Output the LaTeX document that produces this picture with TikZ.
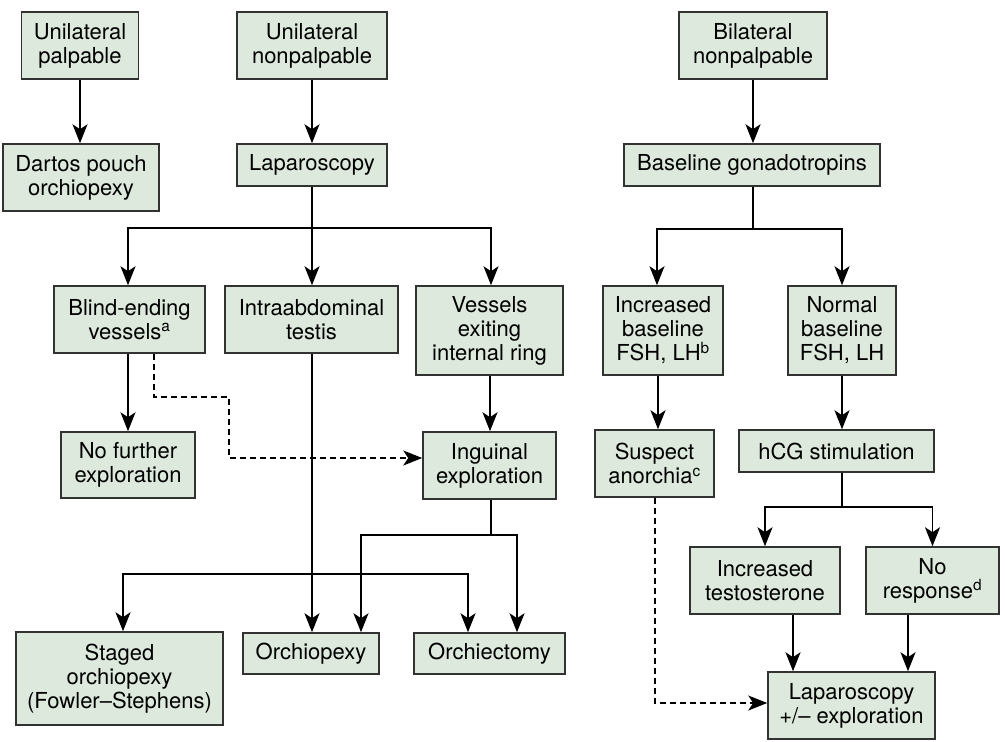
\documentclass[tikz,border=0pt]{standalone}
\usepackage{fontspec}
\setmainfont{TeX Gyre Heros}
\usetikzlibrary{arrows.meta}

\definecolor{boxfill}{RGB}{221,233,221}
\definecolor{boxline}{RGB}{50,50,50}

\tikzset{
  box/.style={draw=boxline, fill=boxfill, line width=1.5pt, align=center,
    inner sep=0pt, font=\fontsize{22}{24}\selectfont},
  boxsize/.style 2 args={minimum width=#1pt, minimum height=#2pt},
  link/.style={line width=1.6pt},
  flow/.style={line width=1.6pt, -{Stealth[length=19pt,width=15pt,inset=5pt]}},
  dashline/.style={dash pattern=on 6pt off 4pt},
}

\begin{document}
\begin{tikzpicture}[x=1pt, y=-1pt]
    \useasboundingbox (0,0) rectangle (1005,742);

    % left column
    \node[box, boxsize={117}{67}] (upal) at (80,45.5) {Unilateral\\palpable};
    \node[box, boxsize={156}{67}] (dartos) at (81,177.5) {Dartos pouch\\orchiopexy};

    % middle column
    \node[box, boxsize={150}{67}] (unon) at (312,45.5) {Unilateral\\nonpalpable};
    \node[box, boxsize={150}{42}] (lap) at (312,165) {Laparoscopy};
    \node[box, boxsize={151}{67}] (blind) at (129.5,319.5) {Blind-ending\\vessels\textsuperscript{a}};
    \node[box, boxsize={173}{67}] (intra) at (311.5,319.5) {Intraabdominal\\testis};
    \node[box, boxsize={147}{89}] (vessels) at (489.5,330.5) {Vessels\\exiting\\internal ring};
    \node[box, boxsize={134}{66}] (nofur) at (128,465) {No further\\exploration};
    \node[box, boxsize={133}{67}] (ingu) at (489.5,465.5) {Inguinal\\exploration};
    \node[box, boxsize={207}{93}] (staged) at (119.5,678.5) {Staged\\orchiopexy\\(Fowler–Stephens)};
    \node[box, boxsize={136}{41}] (opexy) at (311,653.5) {Orchiopexy};
    \node[box, boxsize={151}{41}] (ectomy) at (489.5,653.5) {Orchiectomy};

    % right column
    \node[box, boxsize={148}{67}] (bil) at (753,45.5) {Bilateral\\nonpalpable};
    \node[box, boxsize={256}{42}] (base) at (752,165) {Baseline gonadotropins};
    \node[box, boxsize={120}{89}] (incb) at (663,330.5) {Increased\\baseline\\FSH, LH\textsuperscript{b}};
    \node[box, boxsize={108}{89}] (normb) at (842,330.5) {Normal\\baseline\\FSH, LH};
    \node[box, boxsize={119}{67}] (susp) at (654.5,463.5) {Suspect\\anorchia\textsuperscript{c}};
    \node[box, boxsize={195}{42}] (hcg) at (836.5,451) {hCG stimulation};
    \node[box, boxsize={150}{67}] (inct) at (765,580.5) {Increased\\testosterone};
    \node[box, boxsize={133}{67}] (nores) at (932.5,580.5) {No\\response\textsuperscript{d}};
    \node[box, boxsize={167}{67}] (lapx) at (851.5,705.5) {Laparoscopy\\+/– exploration};

    % branch points
    \coordinate (lsplit) at (312,228);
    \coordinate (isplit) at (312,574);
    \coordinate (gsplit) at (491,535);
    \coordinate (bsplit) at (753,229);
    \coordinate (hsplit) at (842,507);
    \coordinate (d1) at (154,397);
    \coordinate (d2) at (229,458);
    \coordinate (d3) at (655,703);

    % left and middle connectors
    \draw[flow] (upal.south) -- (upal.south |- dartos.north);
    \draw[flow] (unon) -- (lap);
    \draw[link] (lap) -- (lsplit);
    \draw[flow] (lsplit) -| ([xshift=-1.5pt]blind.north);
    \draw[flow] (lsplit) -- (lsplit |- intra.north);
    \draw[flow] (lsplit) -| ([xshift=1.5pt]vessels.north);
    \draw[flow] (nofur.north |- blind.south) -- (nofur.north);
    \draw[flow, dashline] (blind.south -| d1) -- (d1) -| (d2) -- (ingu.west |- d2);
    \draw[flow] ([xshift=0.5pt]vessels.south) -- ([xshift=0.5pt]ingu.north);
    \draw[flow] (isplit |- intra.south) -- (isplit |- opexy.north);
    \draw[flow] (isplit) -| ([xshift=3.5pt]staged.north);
    \draw[flow] (isplit) -| ([xshift=-21.5pt]ectomy.north);
    \draw[link] (gsplit |- ingu.south) -- (gsplit);
    \draw[flow] (gsplit) -| ([xshift=50pt]opexy.north);
    \draw[flow] (gsplit) -| ([xshift=27.5pt]ectomy.north);

    % right connectors
    \draw[flow] (bil.south) -- (bil.south |- base.north);
    \draw[link] (bsplit |- base.south) -- (bsplit);
    \draw[flow] (bsplit) -| ([xshift=-6pt]incb.north);
    \draw[flow] (bsplit) -| (normb.north);
    \draw[flow] ([xshift=-5pt]incb.south) -- ([xshift=-5pt]incb.south |- susp.north);
    \draw[flow] (normb.south) -- (normb.south |- hcg.north);
    \draw[link] (hcg.south -| hsplit) -- (hsplit);
    \draw[flow] (hsplit) -| (inct.north);
    \draw[flow] (hsplit) -| (nores.north);
    \draw[flow] ([xshift=28pt]inct.south) -- ([xshift=28pt]inct.south |- lapx.north);
    \draw[flow] ([xshift=-24.5pt]nores.south) -- ([xshift=-24.5pt]nores.south |- lapx.north);
    \draw[flow, dashline] (susp.south -| d3) -- (d3) -- (lapx.west |- d3);
\end{tikzpicture}
\end{document}
